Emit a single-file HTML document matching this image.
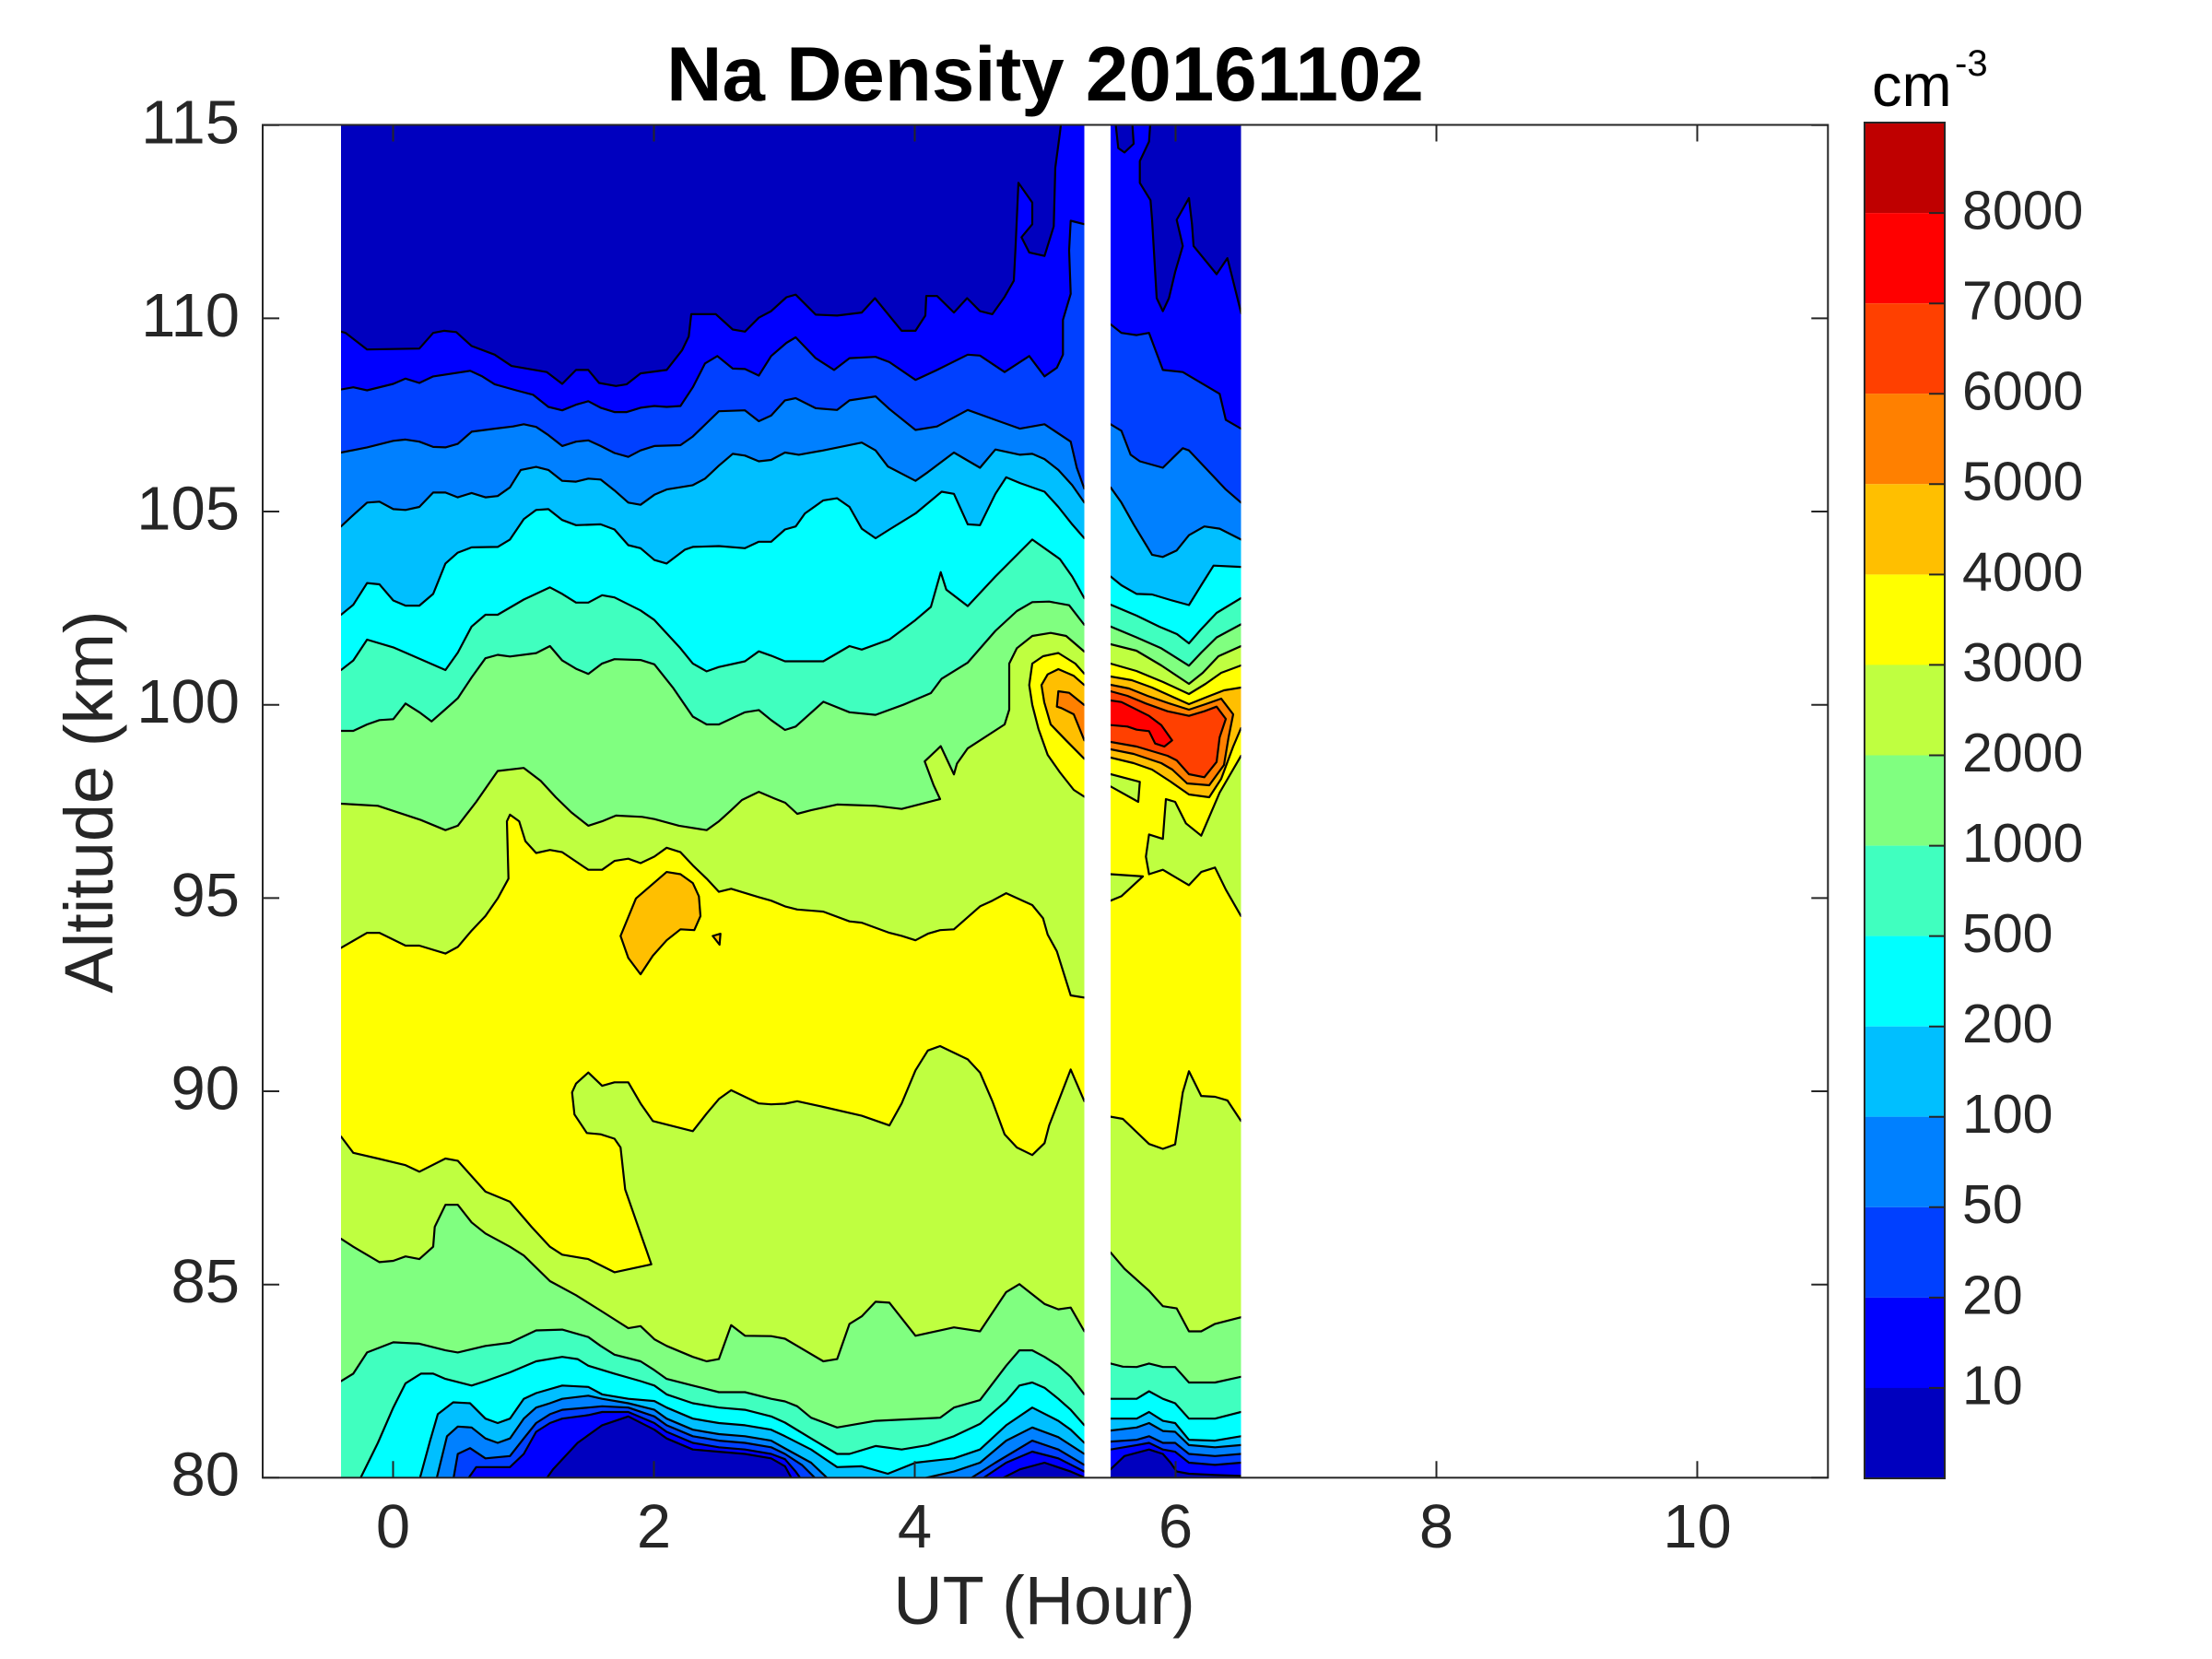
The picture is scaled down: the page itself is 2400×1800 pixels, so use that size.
<!DOCTYPE html>
<html>
<head>
<meta charset="utf-8">
<style>
html,body{margin:0;padding:0;background:#fff;}
svg{display:block;}
text{font-family:"Liberation Sans",Arial,Helvetica,sans-serif;}
</style>
</head>
<body>
<svg width="2400" height="1800" viewBox="0 0 2400 1800" xmlns="http://www.w3.org/2000/svg">
<rect x="0" y="0" width="2400" height="1800" fill="#fff"/>
<defs>
<clipPath id="c1"><rect x="370" y="135.5" width="806.5" height="1468"/></clipPath>
<clipPath id="c2"><rect x="1205" y="135.5" width="141.5" height="1468"/></clipPath>
</defs>

<!-- ===== Segment 1 ===== -->
<g clip-path="url(#c1)" stroke="#000" stroke-width="2.2" stroke-linejoin="round">
<rect x="370" y="135.5" width="806.5" height="1468" fill="#0000BF" stroke="none"/>
<polygon fill="#0000FF" points="370,359.8 375,361.2 398.3,379.2 455,378.2 470,361.2 481.7,358.9 495,360.3 511.7,375.4 536.7,384.8 555,397.1 593.3,403.7 610,416.5 625,401.4 638.3,401.4 650,415.5 668.3,418.8 680,416.9 695,405.1 723.3,401.4 740,380.1 747.3,365 750,340.9 776.7,340.9 795,357.5 808.3,359.8 823.3,344.7 836.7,337.6 853.3,322.5 863.3,319.7 885,341.4 908.3,342.4 935,339.1 949.3,323.5 978.3,358.9 993.3,358.9 1004,342.4 1005,321.1 1016.7,321.1 1035,339.1 1049.3,323.5 1063.3,337.6 1076.7,340.9 1090,322.1 1100,304.6 1101.7,271.6 1105,198.4 1120,219.7 1120,243.3 1108.3,257.4 1116.7,273.9 1133.3,277.7 1143.3,245.6 1145,181.9 1150,144.2 1151.7,130 1151.7,100 1210,100 1210,1640 340,1640 340,359.8"/>
<polygon fill="#0040FF" points="370,422.6 383.3,420.2 398.3,423.5 426.7,416.5 440,410.8 455,415.5 470,408.4 510,402.3 523.3,408.4 536.7,416.9 560,423.5 578.3,428.3 595,441.5 610,445.2 625,439.1 638.3,435.3 651.7,442.4 666.7,447.1 680,447.1 695,442.4 710,440.5 723.3,441.5 738.3,440.5 751.7,420.2 765,394.3 778.3,386.3 795,399.9 808.3,400.4 823.3,407.5 836.7,386.3 853.3,372 863.3,366 885,388.6 905,401.4 921.7,388.6 950,387.2 965,392.9 993.3,412.2 1016.7,401.4 1050,384.8 1063.3,385.8 1090,403.7 1116.7,386.3 1133.3,408.4 1146.7,399 1153.3,384.8 1153.3,347.1 1161.7,318.8 1160,271.6 1161.7,239.5 1176.7,243.3 1210,243.3 1210,1640 340,1640 340,422.6"/>
<polygon fill="#0080FF" points="370,491 398.3,485.4 426.7,478.3 440,476.9 455,479.2 470,484.9 483.3,485.4 496.7,481.6 511.7,468.4 536.7,465.1 556.7,462.7 568.3,460.3 581.7,463.2 595,472.1 610,483.9 625,479.2 638.3,477.8 651.7,483.9 666.7,491.5 681.7,495.7 695,488.7 710,483.9 738.3,483 751.7,473.6 780,446.2 808.3,445.2 823.3,457 836.7,450.9 851.7,434.4 863.3,432 885,442.9 908.3,444.8 921.7,434.4 950,430.1 965,443.8 993.3,466.5 1016.7,462.7 1050,444.8 1080,455.6 1106.7,465.1 1133.3,460.3 1161.7,479.2 1168.3,507.5 1176.5,530.2 1210,530.2 1210,1640 340,1640 340,491"/>
<polygon fill="#00BFFF" points="370,571.2 380,561.8 398.3,545.3 411.7,544.3 426.7,552.4 440,553.3 455,550 470,534.4 483.3,534.4 496.7,539.6 511.7,534.9 526.7,539.6 540,538.2 553.3,528.8 565,509.9 581.7,506.6 595,509.9 610,521.7 625,522.6 638.3,519.3 651.7,520.3 666.7,532.1 681.7,545.3 695,547.7 710,536.8 723.3,531.1 751.7,526.4 765,519.3 780,505.2 795,492.4 808.3,494.3 823.3,500.5 836.7,499 851.7,491 866.7,493.4 893.3,488.7 935,480.2 950,488.7 963.3,506.1 993.3,521.7 1006.7,512.3 1035,491 1063.3,507.5 1080,487.7 1106.7,493.4 1120,492.4 1133.3,498.1 1148.3,509.9 1163.3,526.4 1176.5,545.3 1210,545.3 1210,1640 340,1640 340,571.2"/>
<polygon fill="#00FFFF" points="370,667 383.3,656.2 398.3,632.6 411.7,634 426.7,651.5 440,657.1 455,657.1 470,644.4 483.3,611.4 496.7,599.6 511.7,593.9 540,593.4 553.3,585.4 568.3,563.2 581.7,553.3 595,552.4 610,564.2 625,569.8 651.7,568.9 666.7,574.5 681.7,591.5 695,594.8 710,607.6 723.3,611.4 743.3,596.3 751.7,593.4 780,592.5 808.3,594.8 823.3,587.8 836.7,587.8 851.7,574.5 863.3,571.2 873.3,557.1 893.3,542.9 908.3,540.6 921.7,550 935,573.6 950,584 965,574.5 993.3,557.1 1021.7,533.5 1035,535.8 1050,568.9 1063.3,569.8 1080,535.8 1091.7,517.9 1106.7,524.1 1133.3,533.5 1148.3,550 1163.3,568.9 1176.5,584 1210,584 1210,1640 340,1640 340,667"/>
<polygon fill="#40FFBF" points="370,727 383.3,716.6 398.3,694 426.7,702.4 440,708.1 483.3,727 496.7,708.1 511.7,679.8 526.7,667 540,667 568.3,650.5 596.7,637.3 610,644.4 625,653.8 638.3,653.8 653.3,645.8 666.7,648.2 695,662.3 710,672.7 738.3,703.4 751.7,719.9 766.7,728.4 780,723.7 808.3,717.5 823.3,706.7 836.7,711.4 851.7,717.5 893.3,717.5 921.7,701 935,704.8 965,693.9 993.3,672.7 1010,658.5 1020.7,620.8 1026.7,639.7 1050,657.6 1080,625.5 1120,585.4 1150,606.6 1163.3,625.5 1176.5,649.1 1210,649.1 1210,1640 340,1640 340,727"/>
<polygon fill="#80FF80" points="370,793 383.3,793 398.3,786 411.7,781.3 426.7,780.3 440,763.3 455,772.8 468.3,782.7 483.3,769.5 496.7,757.6 511.7,735 526.7,714.2 540,710.5 553.3,712.3 581.7,708.6 596.7,701 610,716.6 625,725.6 638.3,731.2 653.3,719.9 666.7,715.2 695,716.1 710,720.8 730,745.9 751.7,777.5 766.7,786 780,786 808.3,772.8 823.3,770.4 836.7,781.3 851.7,792 863.3,788.3 893.3,761.4 921.7,772.8 950,775.6 980,764.7 1010,752 1021.7,736.4 1050,718.9 1080,684.5 1103.3,663 1120,653.3 1138.3,652.7 1160,656.7 1176.5,678 1210,678 1210,1640 340,1640 340,793"/>
<polygon fill="#BFFF40" points="370,872 410,874.3 456.7,889.7 483.3,900.7 496.7,895.9 516.7,870 540,836.5 568.3,833.2 586.7,847.3 603,865 620,881.5 638.3,895.9 653.3,891.1 668.3,884.9 696.7,886.3 710,888.7 736.7,895.9 766.7,900.7 780,891.1 793.3,879.1 805,868 823.3,859.1 840,866.2 852,871 865,883 880,879.1 908.3,872.9 950,874.3 978.3,877.7 1020,867 1013,852 1003.3,826.1 1020.7,809.6 1035,840.2 1038.3,828.5 1050,811.9 1090,786 1095,770 1095,720 1103.3,703.3 1120,690 1140,686.7 1156.7,690 1176.5,707 1210,707 1210,1640 340,1640 340,872"/>
<polygon fill="#FFFF00" points="370,1028.4 398.3,1012.1 411.7,1012.1 440,1026 455,1026 483.3,1034.6 496.7,1027.4 511.7,1009.7 526.7,993.9 540,974.8 551.7,953.3 550,891.1 553.3,883.9 563.3,891.1 570,912.6 581.7,925.5 596.7,922.2 610,924.6 638.3,943.7 653.3,943.7 666.7,934.1 681.7,931.7 695,936.5 710,929.4 723.3,919.8 738.3,924.6 751.7,938.9 766.7,953.3 780,967.6 793.3,964.3 823.3,973.4 836.7,977.2 851.7,983.4 865,986.8 893.3,989.1 921.7,999.7 935,1001.1 965,1012.1 978.3,1015.4 993.3,1020.2 1006.7,1013.1 1020,1009.2 1035,1008.3 1063.3,983.4 1076.7,977.2 1091.7,969.1 1120,982 1131.7,996.3 1136.7,1014 1146.7,1032.2 1161.7,1080 1176.5,1082.4 1210,1082.4 1210,1640 340,1640 340,1028.4"/>
<polygon fill="#FFBF00" points="673.3,1015.5 690,974.8 723.3,946.1 738.3,948.5 751.7,958.1 758.3,972.4 760,993.9 753.3,1009.2 738.3,1008.3 723.3,1020.2 708.3,1037 695,1057.1 681.7,1039.4"/>
<polygon fill="#FFBF00" points="773.3,1015.5 781.7,1013.1 780.7,1025"/>
<polygon fill="#FFFF00" points="1176.5,731 1166.7,720 1148.3,708.5 1131.7,712 1120,720 1116.7,743.3 1120,764.7 1126.7,790.7 1136.7,819 1150,838 1165,857 1176.5,864.5 1210,864.5 1210,731"/>
<polygon fill="#FFBF00" points="1176.5,743.3 1165,733.3 1148.3,726 1136.7,731.7 1130,743.3 1133,762 1140,786 1156.7,803.3 1176.5,823.3 1210,823.3 1210,743.3"/>
<polygon fill="#FF8000" points="1176.5,765 1160,751.7 1148.3,750 1146.7,766.7 1151.7,768.3 1165,775 1176.5,803.3 1210,803.3 1210,765"/>
<polygon fill="#BFFF40" points="370,1233.1 383.3,1250.8 410,1257 440,1264.2 455,1271.3 483.3,1257 496.7,1259.4 511.7,1276.1 526.7,1292.9 553.3,1303.9 576.7,1331.1 596.7,1352.7 610,1361.3 638.3,1366.1 666.7,1380.4 706.7,1371.8 701.7,1357.4 693.3,1333.5 678.3,1290.5 673.3,1245 666.7,1235.5 651.7,1230.7 636.7,1229.3 623.3,1209.2 620.7,1185.2 625,1175.7 638.3,1163.7 653.3,1178.1 666.7,1174.3 681.7,1174.3 695,1197.2 708.3,1216.3 751.7,1227.3 766.7,1208.2 780,1192.4 793.3,1182.9 823.3,1197.2 836.7,1198.2 851.7,1197.5 865,1194.8 893.3,1201 935,1210.6 965,1221.1 978.3,1197.2 993.3,1161.3 1006.7,1139.8 1020,1135 1050,1149.4 1063.3,1163.7 1076.7,1194.8 1090,1230.7 1103.3,1245 1120,1253.2 1133.3,1240.3 1138.3,1221.1 1161.7,1160.4 1176.5,1194.8 1210,1194.8 1210,1640 340,1640 340,1233.1"/>
<polygon fill="#80FF80" points="370,1344 383.3,1352.7 411.7,1369.4 426.7,1368 440,1363.2 455,1366.1 470,1352.7 471.7,1331.1 483.3,1307.2 496.7,1307.2 511.7,1326.3 526.7,1338.3 553.3,1352.7 568.3,1362.2 596.7,1390 625,1405.3 651.7,1422 681.7,1441.1 695,1438.8 710,1453.1 723.3,1460.3 751.7,1472.2 766.7,1477 780,1474.6 793.3,1437.8 808.3,1449.3 836.7,1449.7 851.7,1452.5 865,1460.3 893.3,1477 908.3,1474.6 921.7,1436.4 935,1428.2 950,1412.4 965,1413.4 993.3,1449.3 1035,1440.2 1063.3,1444.5 1091.7,1401.9 1106,1393.3 1133.3,1414.8 1148.3,1420.6 1161.7,1418.7 1176.5,1444.5 1210,1444.5 1210,1640 340,1640 340,1344"/>
<polygon fill="#40FFBF" points="370,1498.5 383.3,1490.4 398.3,1467.4 426.7,1456.4 455,1457.9 483.3,1465.1 496.7,1467.4 526.7,1460.3 553.3,1456.9 581.7,1443.5 610,1442.6 638.3,1450.7 651.7,1460.3 666.7,1469.8 695,1477 710,1486.6 723.3,1496.1 751.7,1503.3 780,1510.5 808.3,1510.5 836.7,1517.7 851.7,1520.5 865,1525.8 880,1538.2 908.3,1548.8 950,1541.6 1020,1538.2 1035,1527.2 1063.3,1519.1 1091.7,1481.8 1106,1465.1 1120,1465.1 1133.3,1472.2 1148.3,1481.8 1161.7,1493.8 1176.5,1512.9 1210,1512.9 1210,1640 340,1640 340,1498.5"/>
<polygon fill="#00FFFF" points="390,1606 410,1565.5 426.7,1527.2 440,1500.9 456.7,1490.4 470,1490.4 483.3,1496.1 511.7,1503.3 526.7,1498.5 553.3,1489 581.7,1477 610,1472.2 626.7,1474.6 638.3,1481.8 666.7,1490.4 695,1498.5 710,1503.3 723.3,1512.9 751.7,1522.5 780,1527.2 808.3,1529.6 836.7,1536.8 851.7,1543.5 880,1560.7 908.3,1577.5 921.7,1577.5 950,1568.9 978.3,1572.7 1006.7,1567.9 1035,1558.3 1063.3,1544.9 1091.7,1520.1 1106,1503.3 1120,1500 1133.3,1505.7 1148.3,1517.7 1161.7,1529.6 1176.5,1546.4 1210,1546.4 1210,1640 390,1640"/>
<polygon fill="#00BFFF" points="455,1606 466.7,1563.1 475,1534.4 491.7,1521.5 510,1522.5 526.7,1539.2 540,1544 553.3,1539.2 568.3,1517.7 581.7,1511.5 610,1503.3 638.3,1504.8 653.3,1512.9 681.7,1517.7 710,1520.1 723.3,1527.2 751.7,1539.2 780,1544 808.3,1546.4 836.7,1551.2 851.7,1558.3 880,1572.7 908.3,1591.8 935,1590.9 963.3,1599 993.3,1587 1035,1582.3 1063.3,1572.7 1091.7,1546.4 1120,1527.2 1148.3,1541.6 1161.7,1551.2 1176.5,1565.5 1210,1565.5 1210,1640 455,1640"/>
<polygon fill="#0080FF" points="473.3,1606 485,1558.3 496.7,1547.8 511.7,1548.8 526.7,1560.7 540,1565.5 553.3,1560.7 568.3,1539.2 581.7,1527.2 596.7,1522.5 610,1517.7 638.3,1514.3 653.3,1517.7 681.7,1522.5 710,1529.6 723.3,1539.2 751.7,1551.2 780,1556 808.3,1558.3 836.7,1563.1 851.7,1571.5 880,1587 900,1606 900,1640 473.3,1640"/>
<polygon fill="#0080FF" points="993.3,1606 1035,1596.6 1063.3,1587 1091.7,1563.1 1120,1548.8 1148.3,1559.3 1176.5,1577.5 1210,1577.5 1210,1640 993.3,1640"/>
<polygon fill="#0040FF" points="491.7,1606 496.7,1577.5 510,1571.2 526.7,1582.3 553.3,1579.8 568.3,1560.7 581.7,1544 596.7,1534.4 610,1529.6 638.3,1527.2 653.3,1525.8 681.7,1527.2 710,1536.8 723.3,1546.4 751.7,1558.3 780,1563.1 808.3,1565.5 836.7,1570.3 851.7,1577.5 870,1589.4 886.7,1606 886.7,1640 491.7,1640"/>
<polygon fill="#0040FF" points="1050,1606 1080,1587 1120,1563.1 1148.3,1572.7 1176.5,1589.4 1210,1589.4 1210,1640 1050,1640"/>
<polygon fill="#0000FF" points="506.7,1606 516.7,1591.8 536.7,1591.8 553.3,1591.8 568.3,1577.5 581.7,1553.5 596.7,1544 610,1539.2 638.3,1535.4 653.3,1532 681.7,1532 710,1544 723.3,1553.5 751.7,1565.5 780,1570.3 808.3,1572.7 836.7,1577.5 851.7,1583.2 863.3,1596.6 870,1606 870,1640 506.7,1640"/>
<polygon fill="#0000FF" points="1063.3,1606 1091.7,1587 1120,1575 1148.3,1582.3 1176.5,1596.6 1210,1596.6 1210,1640 1063.3,1640"/>
<polygon fill="#0000BF" points="591.7,1606 600,1594.2 626.7,1565.5 653.3,1546.4 681.7,1536.8 710,1551.2 723.3,1560.7 751.7,1572.7 780,1575.1 808.3,1577.5 836.7,1582.3 851.7,1590.9 860,1606 860,1640 591.7,1640"/>
<polygon fill="#0000BF" points="1083.3,1606 1106.7,1594.2 1133.3,1587 1161.7,1596.6 1176.5,1603 1210,1603 1210,1640 1083.3,1640"/>
</g>

<!-- ===== Segment 2 ===== -->
<g clip-path="url(#c2)" stroke="#000" stroke-width="2.2" stroke-linejoin="round">
<rect x="1205" y="135.5" width="141.5" height="1468" fill="#0000FF" stroke="none"/>
<polygon fill="#0000BF" points="1248.3,130 1246.7,153.6 1236.7,174.8 1236.7,198.4 1248.3,217.3 1250,238.5 1255,323.5 1261.7,337.6 1268.3,323.5 1275,295.2 1283.3,266.9 1276.7,238.5 1290,214.9 1293.3,243.3 1295,266.9 1320,297.5 1331.7,280.1 1336.7,299.9 1346.7,340 1380,340 1380,100 1248.3,100"/>
<polygon fill="#0000BF" points="1210,130 1213.3,160.7 1220,165.4 1230,156 1228.3,130 1228.3,100 1210,100"/>
<polygon fill="#0040FF" points="1205,351.8 1216.7,361.2 1233.3,363.6 1246.7,361.2 1261.7,401.4 1283.3,403.7 1323.3,427.3 1330,455.6 1346.5,465.1 1380,465.1 1380,1640 1175,1640 1175,351.8"/>
<polygon fill="#0080FF" points="1205,460.3 1216.7,467.4 1226.7,493.4 1236.7,500.5 1261.7,507.5 1283.3,486.3 1290,488.7 1316.7,517 1330,531.1 1346.5,545.3 1380,545.3 1380,1640 1175,1640 1175,460.3"/>
<polygon fill="#00BFFF" points="1205,528.8 1216.7,545.3 1230,568.9 1250,601.9 1261.7,604.3 1276.7,597.2 1290,580.7 1306.7,571.2 1323.3,573.6 1346.5,585.4 1380,585.4 1380,1640 1175,1640 1175,528.8"/>
<polygon fill="#00FFFF" points="1205,625.5 1216.7,635 1233.3,644.4 1250,645 1270,651 1290,656.5 1303.3,635 1316.7,613.7 1346.5,615.1 1380,615.1 1380,1640 1175,1640 1175,625.5"/>
<polygon fill="#40FFBF" points="1205,656 1233.3,668 1258,680 1277,688 1290,698 1303,683 1320,665 1346.5,649 1380,649 1380,1640 1175,1640 1175,656"/>
<polygon fill="#80FF80" points="1205,679.8 1233.3,691.6 1260,703.4 1290,722.3 1303.3,708.1 1320,691.6 1346.5,677.4 1380,677.4 1380,1640 1175,1640 1175,679.8"/>
<polygon fill="#BFFF40" points="1205,699 1233,706 1260,722 1290,742 1305,730 1322,712 1346.5,701 1380,701 1380,1640 1175,1640 1175,699"/>
<polygon fill="#FFFF00" points="1205,720 1233,728 1262,740 1290,753 1308,742 1325,730 1346.5,722 1380,722 1380,1640 1175,1640 1175,720"/>
<polygon fill="#FFBF00" points="1205,734 1228,738 1250,746 1270,755 1290,764 1310,756 1328,749 1346.5,746 1380,746 1380,790 1346.5,790 1338,810 1325,845 1312,865 1290,862 1270,848 1250,835 1230,828 1205,822 1175,822 1175,734"/>
<polygon fill="#FF8000" points="1205,743 1225,747 1245,755 1268,763 1290,770 1308,764 1325,758 1338,775 1333,800 1328,830 1312,852 1288,850 1272,835 1260,828 1245,823 1230,818 1205,813 1175,813 1175,743"/>
<polygon fill="#FF4000" points="1205,750 1223.3,755 1243.3,763.3 1266.7,771.7 1290,776.7 1306.7,771.7 1320,766.7 1330,780 1323.3,800 1320,826.7 1306.7,843.3 1290,840 1276.7,825 1266.7,820 1250,815 1233.3,810 1205,805 1175,805 1175,750"/>
<polygon fill="#FF0000" points="1205,760 1216.7,761.7 1230,768.3 1246.7,776.7 1260,786.7 1271.7,803.3 1263.3,810 1253.3,806.7 1246.7,793.3 1233.3,791.7 1223.3,788.3 1205,786.7 1175,786.7 1175,760"/>
<polygon fill="#BFFF40" points="1346.5,820 1323.3,860 1303.3,906.7 1286.7,893.3 1275,870 1265,867 1263.3,888.7 1261.7,910.2 1246.7,905.4 1243.3,929.4 1246.7,948.5 1261.7,943.7 1290,960.4 1303.3,946.1 1318.3,941.3 1330,965.2 1346.5,993.9 1380,993.9 1380,820"/>
<polygon fill="#BFFF40" points="1205,840 1236.7,848.3 1235,870 1205,853.3 1175,853.3 1175,840"/>
<polygon fill="#BFFF40" points="1205,948.5 1240,950.9 1216.7,972.4 1205,977.2 1175,977.2 1175,948.5"/>
<polygon fill="#BFFF40" points="1205,1211.6 1218.3,1214 1246.7,1241.2 1261.7,1246.5 1275,1241.7 1283.3,1185.2 1290,1162.3 1303.3,1189.1 1318.3,1190 1331.7,1193.9 1346.5,1216.3 1380,1216.3 1380,1640 1175,1640 1175,1211.6"/>
<polygon fill="#80FF80" points="1205,1358.9 1220,1376.6 1246.7,1400.5 1261.7,1417.2 1276.7,1419.6 1290,1444.5 1303.3,1444.5 1318.3,1436.4 1346.5,1429.2 1380,1429.2 1380,1640 1175,1640 1175,1358.9"/>
<polygon fill="#40FFBF" points="1205,1479.4 1218.3,1482.8 1233.3,1483.2 1246.7,1479.4 1261.7,1483.2 1275,1483.2 1290,1500 1318.3,1500 1346.5,1493.8 1380,1493.8 1380,1640 1175,1640 1175,1479.4"/>
<polygon fill="#00FFFF" points="1205,1517.7 1233.3,1517.7 1246.7,1509.5 1261.7,1517.7 1275,1522.5 1290,1539.2 1318.3,1539.2 1346.5,1532 1380,1532 1380,1640 1175,1640 1175,1517.7"/>
<polygon fill="#00BFFF" points="1205,1539.2 1233.3,1539.2 1246.7,1532 1261.7,1541.6 1275,1544 1290,1562.2 1318.3,1563.1 1346.5,1558.3 1380,1558.3 1380,1640 1175,1640 1175,1539.2"/>
<polygon fill="#0080FF" points="1205,1552.1 1233.3,1548.8 1246.7,1544 1261.7,1552.6 1275,1553.5 1290,1567.9 1318.3,1570.3 1346.5,1567.9 1380,1567.9 1380,1640 1175,1640 1175,1552.1"/>
<polygon fill="#0040FF" points="1205,1564.1 1233.3,1562.2 1246.7,1558.3 1261.7,1565.5 1275,1565.5 1290,1577.5 1318.3,1579.8 1346.5,1577.5 1380,1577.5 1380,1640 1175,1640 1175,1564.1"/>
<polygon fill="#0000FF" points="1205,1572.7 1233.3,1567.9 1246.7,1565.5 1261.7,1572.7 1275,1575.1 1290,1587 1318.3,1589.4 1346.5,1587 1380,1587 1380,1640 1175,1640 1175,1572.7"/>
<polygon fill="#0000BF" points="1205,1594.2 1220,1579.8 1246.7,1572.7 1261.7,1577.5 1270,1587 1276.7,1596.6 1290,1599 1318.3,1600.4 1346.5,1601.4 1380,1601.4 1380,1640 1175,1640 1175,1594.2"/>
</g>

<!-- ===== Axes ===== -->
<g stroke="#262626" stroke-width="2" fill="none">
<rect x="285" y="135.5" width="1698.3" height="1467.8"/>
<path d="M426.5,1603.3V1585.3M709.5,1603.3V1585.3M992.5,1603.3V1585.3M1275.5,1603.3V1585.3M1558.5,1603.3V1585.3M1841.5,1603.3V1585.3
M426.5,135.5V153.5M709.5,135.5V153.5M992.5,135.5V153.5M1275.5,135.5V153.5M1558.5,135.5V153.5M1841.5,135.5V153.5"/>
<path d="M285,1603.3H303M285,1393.7H303M285,1184H303M285,974.4H303M285,764.7H303M285,555H303M285,345.4H303M285,135.7H303
M1983.3,1603.3H1965.3M1983.3,1393.7H1965.3M1983.3,1184H1965.3M1983.3,974.4H1965.3M1983.3,764.7H1965.3M1983.3,555H1965.3M1983.3,345.4H1965.3M1983.3,135.7H1965.3"/>
</g>

<g fill="#262626" font-size="67" text-anchor="middle">
<text x="426.5" y="1679">0</text>
<text x="709.5" y="1679">2</text>
<text x="992.5" y="1679">4</text>
<text x="1275.5" y="1679">6</text>
<text x="1558.5" y="1679">8</text>
<text x="1841.5" y="1679">10</text>
</g>
<g fill="#262626" font-size="67" text-anchor="end">
<text x="260" y="1622.5">80</text>
<text x="260" y="1413">85</text>
<text x="260" y="1203.5">90</text>
<text x="260" y="993.8">95</text>
<text x="260" y="784.1">100</text>
<text x="260" y="574.5">105</text>
<text x="260" y="364.8">110</text>
<text x="260" y="155.5">115</text>
</g>

<text x="1133" y="1762" font-size="74" fill="#262626" text-anchor="middle">UT (Hour)</text>
<text transform="translate(122,870) rotate(-90)" font-size="74" fill="#262626" text-anchor="middle">Altitude (km)</text>

<text x="1134" y="109" font-size="83.5" font-weight="bold" fill="#000" text-anchor="middle">Na Density 20161102</text>

<!-- ===== Colorbar ===== -->
<g stroke="none">
<rect x="2023" y="133" width="87" height="98.1" fill="#BF0000"/>
<rect x="2023" y="231.1" width="87" height="98.1" fill="#FF0000"/>
<rect x="2023" y="329.2" width="87" height="98.1" fill="#FF4000"/>
<rect x="2023" y="427.2" width="87" height="98.1" fill="#FF8000"/>
<rect x="2023" y="525.3" width="87" height="98.1" fill="#FFBF00"/>
<rect x="2023" y="623.4" width="87" height="98.1" fill="#FFFF00"/>
<rect x="2023" y="721.4" width="87" height="98.1" fill="#BFFF40"/>
<rect x="2023" y="819.5" width="87" height="98.1" fill="#80FF80"/>
<rect x="2023" y="917.6" width="87" height="98.1" fill="#40FFBF"/>
<rect x="2023" y="1015.6" width="87" height="98.1" fill="#00FFFF"/>
<rect x="2023" y="1113.7" width="87" height="98.1" fill="#00BFFF"/>
<rect x="2023" y="1211.7" width="87" height="98.1" fill="#0080FF"/>
<rect x="2023" y="1309.8" width="87" height="98.1" fill="#0040FF"/>
<rect x="2023" y="1407.9" width="87" height="98.1" fill="#0000FF"/>
<rect x="2023" y="1505.9" width="87" height="98.1" fill="#0000BF"/>
</g>
<g stroke="#262626" stroke-width="2" fill="none">
<rect x="2023" y="133" width="87" height="1471"/>
<path d="M2110,231.1H2093M2110,329.2H2093M2110,427.2H2093M2110,525.3H2093M2110,623.4H2093M2110,721.4H2093M2110,819.5H2093M2110,917.6H2093M2110,1015.6H2093M2110,1113.7H2093M2110,1211.7H2093M2110,1309.8H2093M2110,1407.9H2093M2110,1505.9H2093"/>
</g>
<g fill="#262626" font-size="59" text-anchor="start">
<text x="2129" y="248.5">8000</text>
<text x="2129" y="346.6">7000</text>
<text x="2129" y="444.6">6000</text>
<text x="2129" y="542.7">5000</text>
<text x="2129" y="640.8">4000</text>
<text x="2129" y="738.8">3000</text>
<text x="2129" y="836.9">2000</text>
<text x="2129" y="935">1000</text>
<text x="2129" y="1033">500</text>
<text x="2129" y="1131.1">200</text>
<text x="2129" y="1229.1">100</text>
<text x="2129" y="1327.2">50</text>
<text x="2129" y="1425.3">20</text>
<text x="2129" y="1523.3">10</text>
</g>
<text x="2031" y="115" font-size="65" fill="#000">cm</text>
<text x="2121" y="82" font-size="40" fill="#000">-3</text>
</svg>
</body>
</html>
